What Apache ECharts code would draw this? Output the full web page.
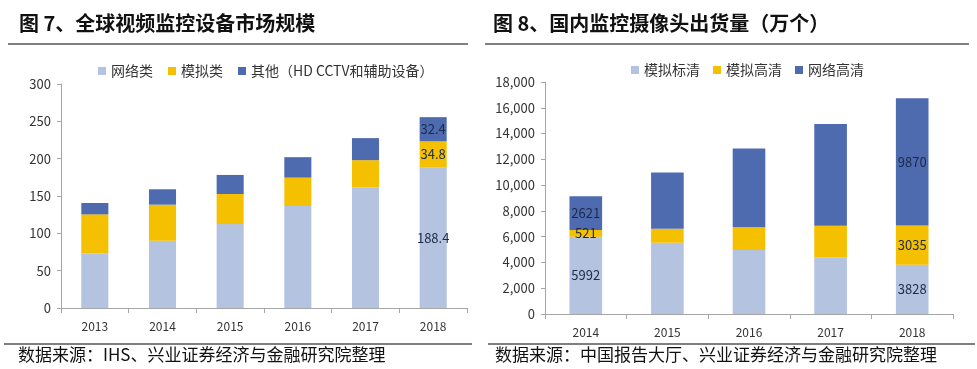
<!DOCTYPE html>
<html><head><meta charset="utf-8">
<script src="https://cdn.jsdelivr.net/npm/echarts@6/dist/echarts.min.js"></script>
<style>html,body{margin:0;padding:0;background:#fff}#c{width:977px;height:369px}</style>
</head><body><div id="c"></div>
<script>
// Chart 7 data
const years7 = ['2013','2014','2015','2016','2017','2018'];
const network7 = [73, 90, 112.4, 136.6, 161.2, 188.4];
const analog7 = [52.4, 48.4, 40.3, 38, 36.8, 34.8];
const other7 = [15.2, 20.6, 25.5, 27.4, 29.5, 32.4];
const labels7 = {network: [null,null,null,null,null,'188.4'], analog: [null,null,null,null,null,'34.8'], other: [null,null,null,null,null,'32.4']};
// Chart 8 data
const years8 = ['2014','2015','2016','2017','2018'];
const analogSD = [5992, 5530, 4960, 4390, 3828];
const analogHD = [521, 1080, 1780, 2450, 3035];
const networkHD = [2621, 4360, 6100, 7900, 9870];
const labels8 = {sd: ['5992',null,null,null,'3828'], hd: ['521',null,null,null,'3035'], net: ['2621',null,null,null,'9870']};

const cLight = '#b4c3e0', cGold = '#f5c000', cBlue = '#4e6bb0';
const font = '"Noto Sans CJK SC", "Noto Sans", sans-serif';

function mkLabel(arr, pos){
  return {show:true, position: pos||'inside', color:'#1c2a4a', fontSize:13, fontFamily:font,
    formatter: p => arr[p.dataIndex] == null ? '' : arr[p.dataIndex]};
}

const chart = echarts.init(document.getElementById('c'));
const axisLineStyle = {lineStyle:{color:'#a6a6a6', width:1}};
chart.setOption({
  animation:false,
  textStyle:{fontFamily:font},
  legend:[
    {left:93, top:59, itemWidth:8, itemHeight:8, itemGap:15, icon:'rect',
     textStyle:{fontSize:14, color:'#333', fontFamily:font},
     data:['网络类','模拟类','其他（HD CCTV和辅助设备）']},
    {left:626, top:58, itemWidth:8, itemHeight:8, itemGap:13, icon:'rect',
     textStyle:{fontSize:14, color:'#333', fontFamily:font},
     data:['模拟标清','模拟高清','网络高清']}
  ],
  grid:[
    {left:61, right:510, top:84, bottom:61},
    {left:545, right:24, top:82, bottom:55}
  ],
  xAxis:[
    {type:'category', gridIndex:0, data:years7, axisLine:axisLineStyle,
     axisTick:{show:true, length:5, lineStyle:{color:'#a6a6a6'}},
     axisLabel:{color:'#333', fontSize:12, margin:12}},
    {type:'category', gridIndex:1, data:years8, axisLine:axisLineStyle,
     axisTick:{show:true, length:5, lineStyle:{color:'#a6a6a6'}},
     axisLabel:{color:'#333', fontSize:12, margin:12}}
  ],
  yAxis:[
    {type:'value', gridIndex:0, min:0, max:300, interval:50,
     axisLine:{show:true, lineStyle:{color:'#a6a6a6'}},
     axisTick:{show:true, length:4, lineStyle:{color:'#a6a6a6'}},
     splitLine:{show:false}, axisLabel:{color:'#333', fontSize:13, margin:10}},
    {type:'value', gridIndex:1, min:0, max:18000, interval:2000,
     axisLine:{show:true, lineStyle:{color:'#a6a6a6'}},
     axisTick:{show:true, length:4, lineStyle:{color:'#a6a6a6'}},
     splitLine:{show:false},
     axisLabel:{color:'#333', fontSize:13, margin:10,
       formatter: v => v.toLocaleString('en-US')}}
  ],
  series:[
    {name:'网络类', type:'bar', stack:'a', xAxisIndex:0, yAxisIndex:0, data:network7, barWidth:'40%',
     itemStyle:{color:cLight}, label:mkLabel(labels7.network)},
    {name:'模拟类', type:'bar', stack:'a', xAxisIndex:0, yAxisIndex:0, data:analog7,
     itemStyle:{color:cGold}, label:mkLabel(labels7.analog)},
    {name:'其他（HD CCTV和辅助设备）', type:'bar', stack:'a', xAxisIndex:0, yAxisIndex:0, data:other7,
     itemStyle:{color:cBlue}, label:mkLabel(labels7.other)},
    {name:'模拟标清', type:'bar', stack:'b', xAxisIndex:1, yAxisIndex:1, data:analogSD, barWidth:'40%',
     itemStyle:{color:cLight}, label:mkLabel(labels8.sd)},
    {name:'模拟高清', type:'bar', stack:'b', xAxisIndex:1, yAxisIndex:1, data:analogHD,
     itemStyle:{color:cGold}, label:mkLabel(labels8.hd)},
    {name:'网络高清', type:'bar', stack:'b', xAxisIndex:1, yAxisIndex:1, data:networkHD,
     itemStyle:{color:cBlue}, label:mkLabel(labels8.net)}
  ],
  graphic:[
    {type:'text', left:19, top:13, style:{text:'图 7、全球视频监控设备市场规模', font:'bold 20px '+font, fill:'#111'}},
    {type:'text', left:493, top:13, style:{text:'图 8、国内监控摄像头出货量（万个）', font:'bold 20px '+font, fill:'#111'}},
    {type:'rect', shape:{x:8, y:43, width:460, height:2}, style:{fill:'#7f7f7f'}},
    {type:'rect', shape:{x:485, y:43, width:484, height:2}, style:{fill:'#7f7f7f'}},
    {type:'rect', shape:{x:4, y:343, width:468, height:2}, style:{fill:'#7f7f7f'}},
    {type:'rect', shape:{x:488, y:343, width:487, height:2}, style:{fill:'#7f7f7f'}},
    {type:'text', left:18, top:346, style:{text:'数据来源：IHS、兴业证券经济与金融研究院整理', font:'17px '+font, fill:'#111'}},
    {type:'text', left:495, top:346, style:{text:'数据来源：中国报告大厅、兴业证券经济与金融研究院整理', font:'17px '+font, fill:'#111'}}
  ]
});
</script></body></html>
